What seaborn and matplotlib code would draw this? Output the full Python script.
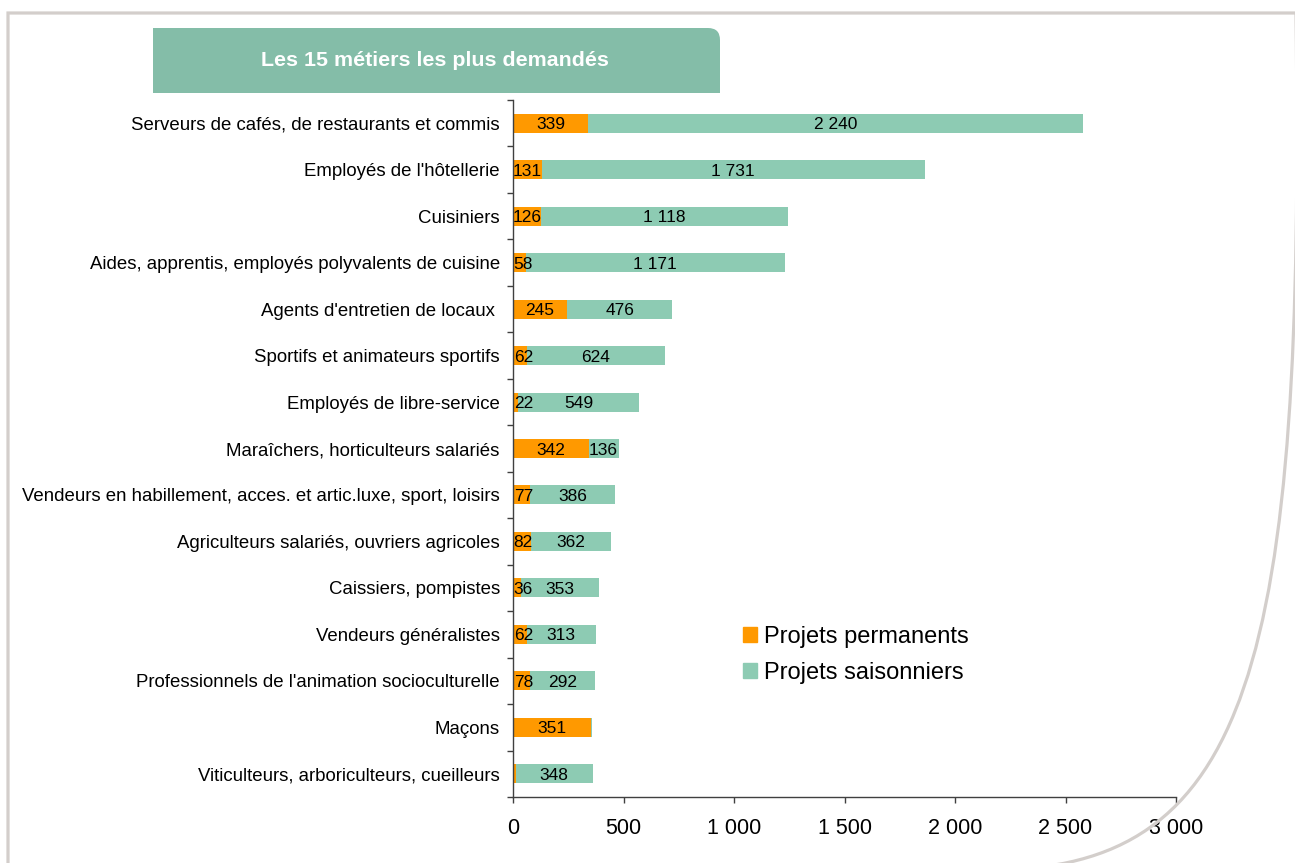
import pandas as pd
import seaborn as sns
import matplotlib.pyplot as plt
from matplotlib.path import Path
from matplotlib.patches import PathPatch, Patch
from matplotlib.transforms import Affine2D
from matplotlib.ticker import FixedLocator

# data
metiers = [
    "Serveurs de cafés, de restaurants et commis",
    "Employés de l'hôtellerie",
    "Cuisiniers",
    "Aides, apprentis, employés polyvalents de cuisine",
    "Agents d'entretien de locaux ",
    "Sportifs et animateurs sportifs",
    "Employés de libre-service",
    "Maraîchers, horticulteurs salariés",
    "Vendeurs en habillement, acces. et artic.luxe, sport, loisirs",
    "Agriculteurs salariés, ouvriers agricoles",
    "Caissiers, pompistes",
    "Vendeurs généralistes",
    "Professionnels de l'animation socioculturelle",
    "Maçons",
    "Viticulteurs, arboriculteurs, cueilleurs",
]
permanents = [339, 131, 126, 58, 245, 62, 22, 342, 77, 82, 36, 62, 78, 351, 12]
saisonniers = [2240, 1731, 1118, 1171, 476, 624, 549, 136, 386, 362, 353, 313, 292, 5, 348]
x_ticks = [0, 500, 1000, 1500, 2000, 2500, 3000]

titre = "Les 15 métiers les plus demandés"
orange = '#FF9900'
vert = '#8DCBB3'
vert_titre = '#84BDA8'

sns.set_style('white')
plt.rcParams['font.family'] = ['Liberation Sans', 'DejaVu Sans']
plt.rcParams['text.color'] = 'black'

df = pd.DataFrame({'metier': metiers, 'perm': permanents, 'seas': saisonniers})
df['total'] = df['perm'] + df['seas']

W, H = 1295, 863
fig = plt.figure(figsize=(W / 100, H / 100), dpi=100)
# pixel coords (origin top-left) -> figure
px = Affine2D().scale(1 / W, -1 / H).translate(0, 1) + fig.transFigure

ax = fig.add_axes([513 / W, 1 - 797 / H, 663 / W, 697 / H])

sns.barplot(data=df, x='total', y='metier', order=metiers, orient='h', color=vert,
            saturation=1, width=0.41, errorbar=None, linewidth=0, ax=ax)
sns.barplot(data=df, x='perm', y='metier', order=metiers, orient='h', color=orange,
            saturation=1, width=0.41, errorbar=None, linewidth=0, ax=ax)

# value labels
for i, row in df.iterrows():
    if row['perm'] >= 15:
        if row['perm'] < 100:
            ax.text(3, i, str(row['perm']), ha='left', va='center_baseline', fontsize=12.5)
        else:
            ax.text(row['perm'] / 2, i, str(row['perm']), ha='center', va='center_baseline',
                    fontsize=12.5)
    if row['seas'] >= 15:
        lab = f"{row['seas']:,}".replace(',', ' ')
        ax.text(row['perm'] + row['seas'] / 2, i, lab, ha='center', va='center_baseline',
                fontsize=12.5)

ax.set_xlim(0, 3000)
ax.set_ylim(14.5, -0.5)
ax.set_xticks(x_ticks)
ax.set_xticklabels([f"{v:,}".replace(',', ' ') for v in x_ticks], fontsize=15.5)
ax.yaxis.set_minor_locator(FixedLocator([i - 0.5 for i in range(16)]))
ax.tick_params(axis='y', which='major', length=0, pad=9.5, labelsize=13.4, labelcolor='black')
ax.tick_params(axis='y', which='minor', left=True, length=4.3, width=1, color='#404040', direction='out')
ax.tick_params(axis='x', which='major', bottom=True, length=4, width=1, color='#404040', pad=11,
               labelcolor='black')
ax.set_xlabel('')
ax.set_ylabel('')
sns.despine(ax=ax)
for s in ['left', 'bottom']:
    ax.spines[s].set_color('#404040')
    ax.spines[s].set_linewidth(1)

# legend
handles = [Patch(color=orange, label='Projets permanents'),
           Patch(color=vert, label='Projets saisonniers')]
fig.legend(handles=handles, loc='upper left', bbox_to_anchor=(743 / W, 1 - 626 / H),
           bbox_transform=fig.transFigure, frameon=False, fontsize=17,
           handlelength=0.6, handleheight=0.6, handletextpad=0.3,
           labelspacing=0.6, borderpad=0, borderaxespad=0)

# outer frame with rounded bottom-right corner
cadre = Path([(8, 870), (8, 13), (1305, 13), (1305, 520),
              (1305, 669), (1250, 870), (990, 870), (8, 870)],
             [Path.MOVETO, Path.LINETO, Path.LINETO, Path.LINETO,
              Path.CURVE4, Path.CURVE4, Path.CURVE4, Path.LINETO])
fig.add_artist(PathPatch(cadre, transform=px, facecolor='none', edgecolor='#D3CECB', lw=2.3))

# title tab
tab = Path([(153, 93), (153, 28), (708, 28), (720, 28), (720, 40), (720, 93), (153, 93)],
           [Path.MOVETO, Path.LINETO, Path.LINETO, Path.CURVE3, Path.CURVE3, Path.LINETO, Path.CLOSEPOLY])
fig.add_artist(PathPatch(tab, transform=px, facecolor=vert_titre, edgecolor='none'))
fig.text(435 / W, 1 - 60 / H, titre, ha='center', va='center', color='white',
         fontsize=15.4, fontweight='bold')

fig.savefig('out.png', dpi=100)
